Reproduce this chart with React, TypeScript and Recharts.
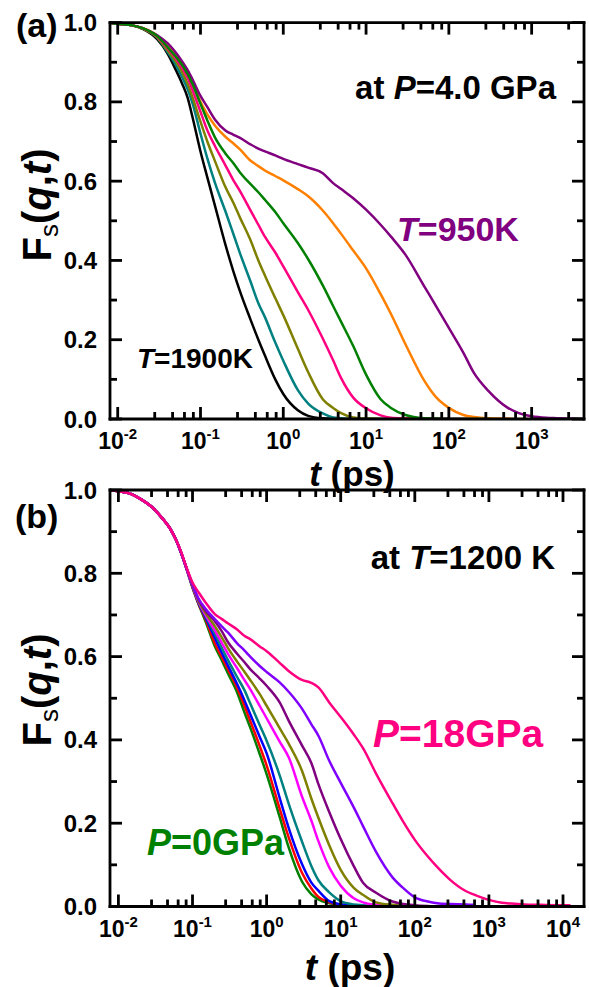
import React from 'react';
import { LineChart, Line, XAxis, YAxis } from 'recharts';

const FONT = '"Liberation Sans", Arial, Helvetica, sans-serif';

// ---------- Panel (a): P = 4.0 GPa, temperatures 1900 K ... 950 K ----------
const timesA = [
  0.008, 0.01, 0.015, 0.02, 0.03, 0.04, 0.05, 0.06, 0.07, 0.08, 0.1, 0.12, 0.15, 0.2, 0.25, 0.3,
  0.4, 0.5, 0.6, 0.8, 1, 1.5, 2, 3, 4, 5, 7, 10, 15, 20, 30, 50, 70, 100, 150, 200, 300, 500,
  700, 1000, 1500, 2000, 3000, 4300,
];
const aBlack = [
  1.0, 0.997, 0.993, 0.984, 0.958, 0.922, 0.882, 0.846, 0.81, 0.762, 0.675, 0.612, 0.537, 0.44, 0.372, 0.322,
  0.252, 0.2, 0.16, 0.1, 0.063, 0.022, 0.008, 0.002, 0.001, 0, 0, 0, 0, 0, 0, 0, 0, 0,
  null, null, null, null, null, null, null, null, null, null,
];
const aTeal = [
  1.0, 0.997, 0.993, 0.985, 0.962, 0.926, 0.894, 0.862, 0.832, 0.797, 0.72, 0.66, 0.595, 0.524, 0.466, 0.418,
  0.348, 0.292, 0.257, 0.193, 0.147, 0.073, 0.039, 0.014, 0.004, 0.002, 0, 0, 0, 0, 0, 0, 0, 0,
  null, null, null, null, null, null, null, null, null, null,
];
const aOlive = [
  1.0, 0.997, 0.993, 0.985, 0.963, 0.93, 0.903, 0.875, 0.845, 0.812, 0.75, 0.702, 0.65, 0.585, 0.545, 0.508,
  0.452, 0.4, 0.362, 0.305, 0.262, 0.177, 0.118, 0.05, 0.028, 0.015, 0.004, 0.001, 0, 0, 0, 0, 0, 0, 0, 0,
  null, null, null, null, null, null, null, null,
];
const aPink = [
  1.0, 0.997, 0.993, 0.986, 0.965, 0.935, 0.91, 0.885, 0.86, 0.83, 0.775, 0.73, 0.688, 0.64, 0.602, 0.575,
  0.527, 0.49, 0.46, 0.42, 0.385, 0.32, 0.275, 0.203, 0.148, 0.103, 0.054, 0.027, 0.009, 0.003, 0.001, 0, 0, 0, 0, 0, 0,
  null, null, null, null, null, null, null,
];
const aGreen = [
  1.0, 0.997, 0.993, 0.986, 0.966, 0.938, 0.915, 0.893, 0.87, 0.845, 0.795, 0.755, 0.71, 0.67, 0.645, 0.622,
  0.593, 0.572, 0.553, 0.522, 0.494, 0.444, 0.403, 0.337, 0.285, 0.245, 0.184, 0.112, 0.05, 0.028, 0.01, 0.002, 0.001, 0, 0, 0, 0,
  null, null, null, null, null, null, null,
];
const aOrange = [
  1.0, 0.997, 0.993, 0.986, 0.967, 0.94, 0.918, 0.897, 0.875, 0.85, 0.8, 0.77, 0.74, 0.712, 0.695, 0.68,
  0.652, 0.638, 0.627, 0.613, 0.602, 0.58, 0.562, 0.526, 0.494, 0.467, 0.425, 0.38, 0.315, 0.265, 0.188, 0.098, 0.055, 0.028,
  0.01, 0.005, 0.002, 0.001, 0, 0,
  null, null, null, null,
];
const aPurple = [
  1.0, 0.997, 0.993, 0.986, 0.968, 0.948, 0.925, 0.902, 0.88, 0.857, 0.815, 0.788, 0.755, 0.728, 0.717, 0.709,
  0.693, 0.682, 0.675, 0.665, 0.656, 0.643, 0.634, 0.62, 0.595, 0.58, 0.557, 0.528, 0.49, 0.46, 0.414, 0.336, 0.285, 0.23,
  0.167, 0.117, 0.071, 0.03, 0.015, 0.007, 0.003, 0.002, 0.001, 0,
];

// ---------- Panel (b): T = 1200 K, pressures 0 GPa ... 18 GPa ----------
const timesB = [
  0.008, 0.01, 0.015, 0.02, 0.03, 0.04, 0.05, 0.06, 0.07, 0.08, 0.1, 0.12, 0.15, 0.2, 0.25, 0.3,
  0.4, 0.5, 0.6, 0.8, 1, 1.5, 2, 3, 4, 5, 7, 10, 15, 20, 30, 50, 70, 100, 150, 200, 300, 500,
  620, 1000, 1500, 2000, 3000, 5000, 10000, 12600,
];
const bGreen = [
  1.0, 0.997, 0.99, 0.978, 0.955, 0.93, 0.907, 0.88, 0.85, 0.82,
  0.765, 0.727, 0.684, 0.625, 0.59, 0.56, 0.514, 0.467, 0.43, 0.368, 0.318, 0.215, 0.14, 0.06, 0.03, 0.017,
  0.008, 0.004, 0.002, 0.001, 0, 0, 0, 0,
  null, null, null, null, null, null, null, null, null, null, null, null,
];
const bRed = [
  1.0, 0.997, 0.99, 0.978, 0.955, 0.93, 0.907, 0.88, 0.85, 0.82,
  0.767, 0.728, 0.69, 0.632, 0.598, 0.57, 0.525, 0.483, 0.446, 0.387, 0.339, 0.235, 0.164, 0.081, 0.044, 0.023,
  0.01, 0.004, 0.002, 0.001, 0, 0, 0, 0,
  null, null, null, null, null, null, null, null, null, null, null, null,
];
const bBlue = [
  1.0, 0.997, 0.99, 0.978, 0.955, 0.93, 0.907, 0.88, 0.85, 0.82,
  0.768, 0.73, 0.694, 0.645, 0.608, 0.579, 0.534, 0.496, 0.462, 0.409, 0.368, 0.261, 0.187, 0.102, 0.058, 0.038,
  0.013, 0.005, 0.002, 0.001, 0, 0, 0, 0,
  null, null, null, null, null, null, null, null, null, null, null, null,
];
const bTeal = [
  1.0, 0.997, 0.99, 0.978, 0.955, 0.93, 0.907, 0.88, 0.85, 0.82,
  0.77, 0.732, 0.698, 0.655, 0.62, 0.592, 0.551, 0.52, 0.488, 0.437, 0.398, 0.315, 0.245, 0.156, 0.098, 0.063,
  0.034, 0.013, 0.005, 0.003, 0.001, 0, 0, 0, 0,
  null, null, null, null, null, null, null, null, null, null, null,
];
const bMagenta = [
  1.0, 0.997, 0.99, 0.978, 0.955, 0.93, 0.907, 0.88, 0.85, 0.82,
  0.77, 0.733, 0.7, 0.663, 0.632, 0.607, 0.572, 0.544, 0.522, 0.483, 0.452, 0.396, 0.357, 0.264, 0.207, 0.157,
  0.094, 0.05, 0.02, 0.01, 0.004, 0.001, 0, 0, 0, 0,
  null, null, null, null, null, null, null, null, null, null,
];
const bOlive = [
  1.0, 0.997, 0.99, 0.978, 0.955, 0.93, 0.907, 0.88, 0.85, 0.82,
  0.772, 0.735, 0.705, 0.673, 0.645, 0.621, 0.588, 0.564, 0.544, 0.511, 0.482, 0.428, 0.39, 0.326, 0.26, 0.213,
  0.147, 0.088, 0.045, 0.028, 0.01, 0.004, 0.002, 0.001, 0, 0, 0,
  null, null, null, null, null, null, null, null, null,
];
const bPurple = [
  1.0, 0.997, 0.99, 0.978, 0.955, 0.93, 0.907, 0.88, 0.85, 0.82,
  0.773, 0.738, 0.71, 0.685, 0.66, 0.635, 0.607, 0.587, 0.57, 0.548, 0.53, 0.49, 0.445, 0.387, 0.345, 0.294,
  0.227, 0.162, 0.097, 0.057, 0.033, 0.012, 0.006, 0.003, 0.001, 0, 0,
  null, null, null, null, null, null, null, null, null,
];
const bViolet = [
  1.0, 0.997, 0.99, 0.978, 0.955, 0.93, 0.907, 0.88, 0.85, 0.82,
  0.774, 0.74, 0.715, 0.69, 0.672, 0.658, 0.632, 0.615, 0.6, 0.578, 0.563, 0.538, 0.515, 0.475, 0.438, 0.41,
  0.35, 0.297, 0.238, 0.193, 0.131, 0.07, 0.044, 0.022, 0.012, 0.008, 0.006, 0.005, 0.004,
  null, null, null, null, null, null, null,
];
const bPink = [
  1.0, 0.997, 0.99, 0.978, 0.955, 0.93, 0.907, 0.88, 0.852, 0.822,
  0.778, 0.755, 0.73, 0.702, 0.69, 0.68, 0.665, 0.65, 0.642, 0.625, 0.613, 0.585, 0.565, 0.544, 0.537, 0.526,
  0.49, 0.455, 0.413, 0.38, 0.319, 0.248, 0.203, 0.16, 0.12, 0.095, 0.064, 0.036, 0.029, 0.016, 0.009,
  0.007, 0.005, 0.004, 0.003, 0.003,
];

// Axis ranges and tick values
const domainA = [0.00807, 4290];
const domainB = [0.0077, 19200];
const majorTicksA = [0.01, 0.1, 1, 10, 100, 1000];
const majorTicksB = [0.01, 0.1, 1, 10, 100, 1000, 10000];
const minorSteps = [2.8, 4.6, 6.4, 8.2];
const yTicks = [0, 0.1, 0.2, 0.3, 0.4, 0.5, 0.6, 0.7, 0.8, 0.9, 1.0];

const seriesA = [
  { key: 'black', color: '#000000', values: aBlack },
  { key: 'teal', color: '#008080', values: aTeal },
  { key: 'olive', color: '#808000', values: aOlive },
  { key: 'pink', color: '#FF0080', values: aPink },
  { key: 'orange', color: '#FF8000', values: aOrange },
  { key: 'purple', color: '#800080', values: aPurple },
  { key: 'green', color: '#008000', values: aGreen },
];
const seriesB = [
  { key: 'green', color: '#008000', values: bGreen },
  { key: 'red', color: '#FF0000', values: bRed },
  { key: 'blue', color: '#0000FF', values: bBlue },
  { key: 'teal', color: '#008080', values: bTeal },
  { key: 'magenta', color: '#FF00FF', values: bMagenta },
  { key: 'olive', color: '#808000', values: bOlive },
  { key: 'purple', color: '#800080', values: bPurple },
  { key: 'violet', color: '#8000FF', values: bViolet },
  { key: 'pink', color: '#FF0080', values: bPink },
];

const buildRows = (times: number[], series: { key: string; values: (number | null)[] }[]) =>
  times.map((t, i) => {
    const row: Record<string, number | null> = { t };
    series.forEach((s) => {
      row[s.key] = s.values[i];
    });
    return row;
  });

const buildXTicks = (majors: number[], domain: number[]) => {
  const out: number[] = [];
  majors.forEach((m) => {
    out.push(m);
    minorSteps.forEach((s) => out.push(+(m * s).toPrecision(6)));
  });
  return out.filter((v) => v >= domain[0] && v <= domain[1]).sort((a, b) => a - b);
};

const AXIS_W = 2.8;
const MAJOR_LEN = 12;
const MINOR_LEN = 7;

const isDecade = (v: number) => Math.abs(Math.log10(v) - Math.round(Math.log10(v))) < 1e-6;
const isMajorY = (v: number) => Math.round(v * 10) % 2 === 0;

const BottomTick = (props: any) => {
  const { x, y, payload } = props;
  const v = payload.value as number;
  const major = isDecade(v);
  const exp = Math.round(Math.log10(v));
  return (
    <g>
      <line x1={x} x2={x} y1={y} y2={y - (major ? MAJOR_LEN : MINOR_LEN)} stroke="#000" strokeWidth={AXIS_W} />
      {major && (
        <text x={x} y={y + 30} textAnchor="middle" fontFamily={FONT} fontWeight="bold" fontSize={23} fill="#000">
          10
          <tspan dy={-10} fontSize={15}>
            {String(exp)}
          </tspan>
        </text>
      )}
    </g>
  );
};

const TopTick = (props: any) => {
  const { x, y, payload } = props;
  const major = isDecade(payload.value);
  return <line x1={x} x2={x} y1={y} y2={y + (major ? MAJOR_LEN : MINOR_LEN)} stroke="#000" strokeWidth={AXIS_W} />;
};

const LeftTick = (props: any) => {
  const { x, y, payload } = props;
  const v = payload.value as number;
  const major = isMajorY(v);
  return (
    <g>
      <line x1={x} x2={x + (major ? MAJOR_LEN : MINOR_LEN)} y1={y} y2={y} stroke="#000" strokeWidth={AXIS_W} />
      {major && (
        <text x={x - 13} y={y + 8.5} textAnchor="end" fontFamily={FONT} fontWeight="bold" fontSize={24} fill="#000">
          {v.toFixed(1)}
        </text>
      )}
    </g>
  );
};

const RightTick = (props: any) => {
  const { x, y, payload } = props;
  const major = isMajorY(payload.value);
  return <line x1={x} x2={x - (major ? MAJOR_LEN : MINOR_LEN)} y1={y} y2={y} stroke="#000" strokeWidth={AXIS_W} />;
};

const axisLine = { stroke: '#000', strokeWidth: AXIS_W, strokeLinecap: 'square' as const };

type PanelProps = {
  width: number;
  height: number;
  margin: { top: number; right: number; bottom: number; left: number };
  rows: Record<string, number | null>[];
  series: { key: string; color: string }[];
  domain: number[];
  xTicks: number[];
};

// Each axis takes a 1px band; margins place the plot box edges.
const Panel = ({ width, height, margin, rows, series, domain, xTicks }: PanelProps) => (
  <LineChart width={width} height={height} data={rows} margin={margin}>
    <XAxis
      xAxisId="bottom"
      dataKey="t"
      type="number"
      scale="log"
      domain={domain}
      allowDataOverflow
      ticks={xTicks}
      interval={0}
      height={1}
      tickSize={0}
      tickMargin={0}
      tickLine={false}
      axisLine={axisLine}
      tick={<BottomTick />}
    />
    <XAxis
      xAxisId="top"
      orientation="top"
      dataKey="t"
      type="number"
      scale="log"
      domain={domain}
      allowDataOverflow
      ticks={xTicks}
      interval={0}
      height={1}
      tickSize={0}
      tickMargin={0}
      tickLine={false}
      axisLine={axisLine}
      tick={<TopTick />}
    />
    <YAxis
      yAxisId="left"
      type="number"
      domain={[0, 1]}
      allowDataOverflow
      ticks={yTicks}
      interval={0}
      width={1}
      tickSize={0}
      tickMargin={0}
      tickLine={false}
      axisLine={axisLine}
      tick={<LeftTick />}
    />
    <YAxis
      yAxisId="right"
      orientation="right"
      type="number"
      domain={[0, 1]}
      allowDataOverflow
      ticks={yTicks}
      interval={0}
      width={1}
      tickSize={0}
      tickMargin={0}
      tickLine={false}
      axisLine={axisLine}
      tick={<RightTick />}
    />
    {series.map((s) => (
      <Line
        key={s.key}
        xAxisId="bottom"
        yAxisId="left"
        dataKey={s.key}
        type="monotone"
        stroke={s.color}
        strokeWidth={2.5}
        dot={false}
        activeDot={false}
        isAnimationActive={false}
        strokeLinejoin="round"
      />
    ))}
  </LineChart>
);

const rowsA = buildRows(timesA, seriesA);
const rowsB = buildRows(timesB, seriesB);
const ticksA = buildXTicks(majorTicksA, domainA);
const ticksB = buildXTicks(majorTicksB, domainB);

const YTitle = ({ cx, cy }: { cx: number; cy: number }) => (
  <text
    x={cx}
    y={cy}
    transform={`rotate(-90 ${cx} ${cy})`}
    textAnchor="middle"
    fontFamily={FONT}
    fontWeight="bold"
    fontSize={40}
    fill="#000"
  >
    F
    <tspan fontSize={26} fontWeight="normal" dy={7}>
      s
    </tspan>
    <tspan dy={-7}>(</tspan>
    <tspan fontStyle="italic">q</tspan>,<tspan fontStyle="italic">t</tspan>)
  </text>
);

const XTitle = ({ cx, y, size }: { cx: number; y: number; size: number }) => (
  <text x={cx} y={y} textAnchor="middle" fontFamily={FONT} fontWeight="bold" fontSize={size} fill="#000">
    <tspan fontStyle="italic">t</tspan> (ps)
  </text>
);

export default function App() {
  return (
    <div style={{ position: 'absolute', left: 0, top: 0, width: 589, height: 987, background: '#fff', overflow: 'hidden' }}>
      <div style={{ position: 'absolute', left: 0, top: 0, zIndex: 0 }}>
        <Panel
          width={589}
          height={490}
          margin={{ top: 21.6, right: 4, bottom: 70, left: 109 }}
          rows={rowsA}
          series={seriesA}
          domain={domainA}
          xTicks={ticksA}
        />
      </div>
      <div style={{ position: 'absolute', left: 0, top: 470, zIndex: 1 }}>
        <Panel
          width={589}
          height={517}
          margin={{ top: 19, right: 4, bottom: 79.5, left: 109 }}
          rows={rowsB}
          series={seriesB}
          domain={domainB}
          xTicks={ticksB}
        />
      </div>
      <svg width={589} height={987} style={{ position: 'absolute', left: 0, top: 0, pointerEvents: 'none', zIndex: 2 }}>
        <g fontFamily={FONT} fontWeight="bold">
          {/* panel (a) */}
          <text x={16} y={37} fontSize={34} fill="#000">(a)</text>
          <text x={556} y={99} textAnchor="end" fontSize={33} fill="#000">
            at <tspan fontStyle="italic">P</tspan>=4.0 GPa
          </text>
          <text x={397} y={241} fontSize={34} fill="#800080">
            <tspan fontStyle="italic">T</tspan>=950K
          </text>
          <text x={137} y={368} fontSize={28} fill="#000">
            <tspan fontStyle="italic">T</tspan>=1900K
          </text>
          {/* panel (b) */}
          <text x={15} y={528} fontSize={34} fill="#000">(b)</text>
          <text x={555} y={569} textAnchor="end" fontSize={33} fill="#000">
            at <tspan fontStyle="italic">T</tspan>=1200 K
          </text>
          <text x={373} y={747} fontSize={39} fill="#FF0080">
            <tspan fontStyle="italic">P</tspan>=18GPa
          </text>
          <text x={147} y={855} fontSize={36} fill="#008000">
            <tspan fontStyle="italic">P</tspan>=0GPa
          </text>
        </g>
        <YTitle cx={51} cy={205} />
        <YTitle cx={51} cy={690} />
        <XTitle cx={352} y={485.5} size={35} />
        <XTitle cx={350} y={979.5} size={37} />
      </svg>
    </div>
  );
}
